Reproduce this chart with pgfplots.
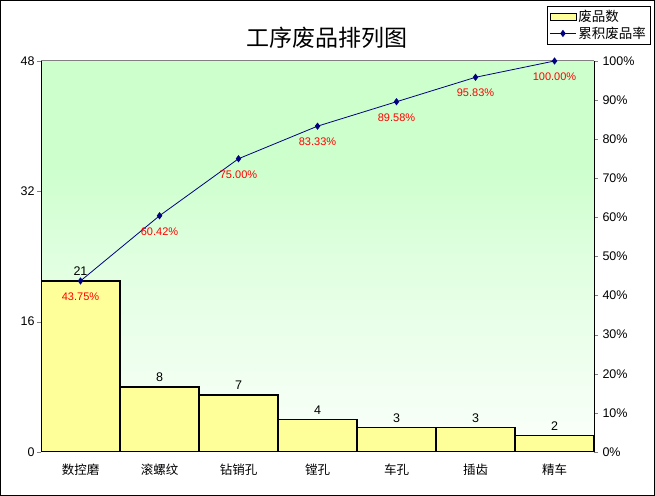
\documentclass[border=0pt]{standalone}
\usepackage{pgfplots}
\pgfplotsset{compat=1.18}
\usepackage{fontspec}
\setmainfont{Liberation Sans}
\newfontfamily\cjk{Noto Sans CJK SC}
\definecolor{bggreen}{RGB}{204,255,204}
\definecolor{barfill}{RGB}{255,255,153}
\definecolor{navy}{RGB}{0,0,128}
\pgfdeclareverticalshading{bgshade}{100bp}{color(0bp)=(bggreen!8!white); color(25bp)=(bggreen!8!white); color(50bp)=(bggreen!62!white); color(62bp)=(bggreen); color(75bp)=(bggreen); color(100bp)=(bggreen)}
\pgfplotsset{mylineleg/.style={legend image code/.code={\draw[mark repeat=2,mark phase=2,##1] plot coordinates {(0bp,0bp) (13bp,0bp) (26bp,0bp)};}}}
\begin{document}
\begin{tikzpicture}[x=1bp,y=1bp]
\useasboundingbox (0,0) rectangle (655,496);
\begin{axis}[
  at={(41bp,44bp)}, anchor=south west,
  width=553bp, height=391bp, scale only axis,
  xmin=-0.5, xmax=6.5, ymin=0, ymax=48,
  axis x line*=bottom, axis y line*=left,
  axis line style={black, line width=1bp},
  axis background/.style={shade, shading=bgshade},
  ytick={0,16,32,48},
  xtick={0,1,2,3,4,5,6},
  xticklabels={数控磨,滚螺纹,钻销孔,镗孔,车孔,插齿,精车},
  major x tick style={draw=none},
  tick align=outside, major tick length=4bp,
  /pgf/number format/assume math mode=true,
  y tick label style={font=\fontsize{12.5bp}{14bp}\selectfont, xshift=1bp},
  x tick label style={font=\cjk\fontsize{12.5bp}{14bp}\selectfont, yshift=-4bp},
  ybar, bar width=1, 
  nodes near coords,
  every node near coord/.append style={font=\fontsize{12.5bp}{14bp}\selectfont, black, yshift=1bp},
]
\addplot[fill=barfill, draw=black, line width=1.4bp] coordinates {(0,21) (1,8) (2,7) (3,4) (4,3) (5,3) (6,2)};
\draw[gray, line width=1bp] (rel axis cs:0,1) -- (rel axis cs:1,1);
\end{axis}
\begin{axis}[
  at={(41bp,44bp)}, anchor=south west,
  width=553bp, height=391bp, scale only axis,
  xmin=-0.5, xmax=6.5, ymin=0, ymax=100,
  axis x line=none, axis y line*=right,
  axis line style={black, line width=1bp},
  ytick={0,10,...,100},
  yticklabel={\pgfmathprintnumber{\tick}\%},
  tick align=outside, major tick length=4bp,
  /pgf/number format/assume math mode=true,
  y tick label style={font=\fontsize{12.5bp}{14bp}\selectfont, xshift=1bp},
  clip=false,
  legend style={at={(1.1013,1.1407)}, anchor=north east, draw=black, fill=white,
    font=\cjk\fontsize{13.5bp}{15bp}\selectfont, inner sep=2bp, row sep=0bp},
  legend cell align=left,
]
\addlegendimage{legend image code/.code={\draw[fill=barfill, draw=black, line width=0.8bp] (0bp,-3.5bp) rectangle (26bp,3.5bp);}}
\addlegendentry{废品数}
\addplot[navy, line width=0.8bp, mark=diamond*, mark size=3bp,
  mark options={fill=navy}, mylineleg,
  nodes near coords, point meta=explicit symbolic,
  every node near coord/.append style={font=\fontsize{11bp}{13bp}\selectfont, red, anchor=north, yshift=-8bp}]
  coordinates {(0,43.75)[43.75\%] (1,60.42)[60.42\%] (2,75.00)[75.00\%] (3,83.33)[83.33\%] (4,89.58)[89.58\%] (5,95.83)[95.83\%] (6,100)[100.00\%]};
\addlegendentry{累积废品率}
\end{axis}
\node[font=\cjk\fontsize{23bp}{27bp}\selectfont] at (327,458) {工序废品排列图};
\draw[line width=1bp] (0.5,0.5) rectangle (654.5,495.5);
\end{tikzpicture}
\end{document}
